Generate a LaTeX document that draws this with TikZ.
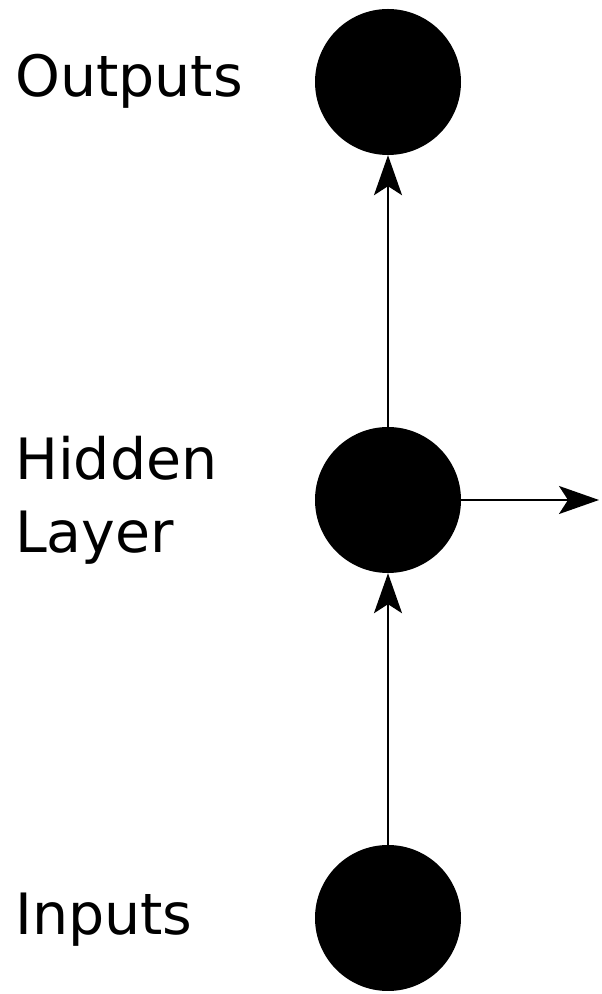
\documentclass[tikz,border=0pt]{standalone}
\usepackage{fontspec}
\setmainfont{DejaVu Sans}
\usetikzlibrary{arrows.meta}
\begin{document}
\begin{tikzpicture}[x=1pt,y=1pt,
        unit/.style={circle,fill=black,minimum size=146pt,inner sep=0pt},
        lbl/.style={anchor=base west,inner sep=0pt,align=left,font=\fontsize{57}{73}\selectfont},
        conn/.style={line width=2pt,-{Stealth[length=40pt,width=28pt,inset=9pt]}}]
        \useasboundingbox (0,0) rectangle (602,994);
        \node[unit] (in) at (388,76) {};
        \node[unit] (hid) at (388,494) {};
        \node[unit] (out) at (388,912) {};
        \coordinate (next) at (599,494);
        \node[lbl] (inlbl) at (15,59) {Inputs};
        \node[lbl] (hidlbl) at (15,441) {Hidden\\Layer};
        \node[lbl] (outlbl) at (15,897) {Outputs};
        \draw[conn] (in) -- (hid);
        \draw[conn] (hid) -- (out);
        \draw[conn] (hid) -- (next);
    \end{tikzpicture}
\end{document}
